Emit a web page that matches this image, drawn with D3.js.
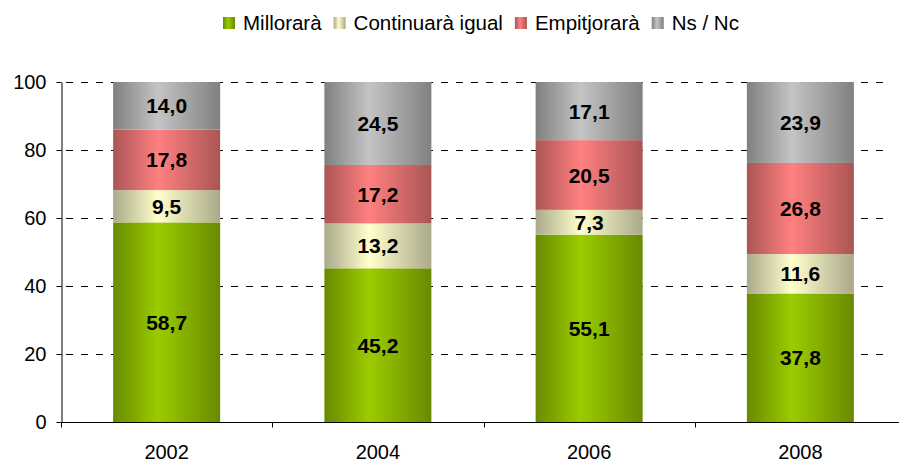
<!DOCTYPE html>
<html>
<head>
<meta charset="UTF-8">
<title>Previsió</title>
<script src="https://cdn.jsdelivr.net/npm/d3@7"></script>
<style type="text/css">
  body { margin:0; background:white; }
  text { font-family: "Liberation Sans", Arial, sans-serif; }
</style>
</head>
<body>
<script type="text/javascript">

// dades
var anys = ['2002', '2004', '2006', '2008'];
var series = ['Millorarà', 'Continuarà igual', 'Empitjorarà', 'Ns / Nc'];
var millorara = [58.7, 45.2, 55.1, 37.8];
var igual = [9.5, 13.2, 7.3, 11.6];
var empitjorara = [17.8, 17.2, 20.5, 26.8];
var nsnc = [14.0, 24.5, 17.1, 23.9];
var ticksY = [0, 20, 40, 60, 80, 100];

var valors = [millorara, igual, empitjorara, nsnc];
// colors: vora fosca, centre clar
var colors = [['#688a00', '#9acc00'], ['#aaa98a', '#ffffcc'], ['#ab5555', '#ff8080'], ['#808080', '#c4c4c4']];

var large = 899, haut = 465;

var svg = d3.select('body').append('svg')
  .attr('width', large)
  .attr('height', haut);

var defs = svg.append('defs');
colors.forEach(function(c, i){
  var g = defs.append('linearGradient')
    .attr('id', 'grad' + i)
    .attr('x1', '0%').attr('x2', '100%')
    .attr('y1', '0%').attr('y2', '0%');
  g.append('stop').attr('offset', '0%').attr('stop-color', c[0]);
  g.append('stop').attr('offset', '42%').attr('stop-color', c[1]);
  g.append('stop').attr('offset', '100%').attr('stop-color', c[0]);
});

var x = d3.scaleBand()
  .domain(anys)
  .range([61, 906])
  .paddingInner(0)
  .paddingOuter(0);

var y = d3.scaleLinear()
  .domain([0, 100])
  .range([422, 82]);

var barW = 107;

// línies de quadrícula
svg.append('g').selectAll('line')
  .data(ticksY.filter(function(d){ return d > 0; }))
  .enter().append('line')
  .attr('x1', 61).attr('x2', 888)
  .attr('y1', function(d){ return y(d) + 0.5; })
  .attr('y2', function(d){ return y(d) + 0.5; })
  .attr('stroke', 'black')
  .attr('stroke-width', 1)
  .attr('stroke-dasharray', '7,8')
  .attr('stroke-dashoffset', 10);

// piles
var pila = anys.map(function(a, i){
  var acc = 0, segs = [];
  valors.forEach(function(v, s){
    segs.push({any: a, s: s, y0: acc, y1: acc + v[i], v: v[i]});
    acc += v[i];
  });
  return segs;
});

var grups = svg.selectAll('.any')
  .data(pila).enter().append('g')
  .attr('class', 'any');

grups.selectAll('rect')
  .data(function(d){ return d; })
  .enter().append('rect')
  .attr('x', function(d){ return x(d.any) + x.bandwidth()/2 - barW/2; })
  .attr('width', barW)
  .attr('y', function(d){ return y(Math.min(d.y1, 100)); })
  .attr('height', function(d){ return y(d.y0) - y(Math.min(d.y1, 100)); })
  .attr('fill', function(d){ return 'url(#grad' + d.s + ')'; });

grups.selectAll('text')
  .data(function(d){ return d; })
  .enter().append('text')
  .attr('x', function(d){ return x(d.any) + x.bandwidth()/2; })
  .attr('y', function(d){ return y((d.y0 + Math.min(d.y1, 100))/2); })
  .attr('dy', '0.36em')
  .attr('text-anchor', 'middle')
  .style('font-size', '21px')
  .style('font-weight', 'bold')
  .text(function(d){ return d.v.toFixed(1).replace('.', ','); });

// eix Y
var eixY = svg.append('g')
  .attr('transform', 'translate(61.5,0)')
  .call(d3.axisLeft(y).tickValues(ticksY).tickSize(5).tickPadding(10).tickSizeOuter(0));
eixY.select('.domain').attr('stroke', 'black');
eixY.selectAll('text').style('font-size', '20px').attr('fill', 'black')
  .style('font-family', '"Liberation Sans", Arial, sans-serif');

// eix X
var eixX = svg.append('g')
  .attr('transform', 'translate(0,422.5)');
eixX.append('line')
  .attr('x1', 61).attr('x2', large)
  .attr('stroke', 'black');
eixX.selectAll('.tk')
  .data(anys).enter().append('line')
  .attr('class', 'tk')
  .attr('x1', function(d){ return Math.round(x(d)) + 0.5; })
  .attr('x2', function(d){ return Math.round(x(d)) + 0.5; })
  .attr('y1', 0).attr('y2', 5)
  .attr('stroke', 'black');
eixX.selectAll('.lb')
  .data(anys).enter().append('text')
  .attr('class', 'lb')
  .attr('x', function(d){ return x(d) + x.bandwidth()/2; })
  .attr('y', 36)
  .attr('text-anchor', 'middle')
  .style('font-size', '20px')
  .text(function(d){ return d; });

// llegenda
var lleg = svg.append('g');
var px = 223;
series.forEach(function(s, i){
  lleg.append('rect')
    .attr('x', px).attr('y', 17)
    .attr('width', 12).attr('height', 12)
    .attr('fill', 'url(#grad' + i + ')');
  var t = lleg.append('text')
    .attr('x', px + 20).attr('y', 30)
    .style('font-size', '20.5px')
    .text(s);
  px += 20 + t.node().getComputedTextLength() + 12;
});

</script>
</body>
</html>
